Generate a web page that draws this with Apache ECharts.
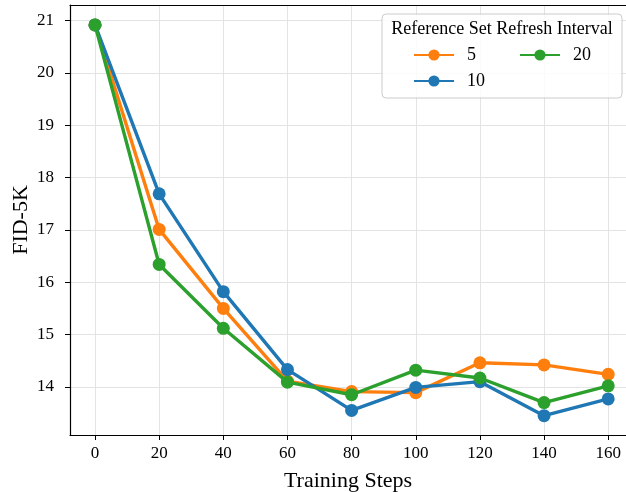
<!DOCTYPE html>
<html>
<head>
<meta charset="utf-8">
<script src="https://cdn.jsdelivr.net/npm/echarts@6/dist/echarts.min.js"></script>
<style>html,body{margin:0;padding:0;background:#fff}#c{width:626px;height:492px}</style>
</head>
<body>
<div id="c"></div>
<script>
const steps = [0, 20, 40, 60, 80, 100, 120, 140, 160];
const interval5 = [20.92, 17.01, 15.50, 14.11, 13.91, 13.89, 14.46, 14.42, 14.24];
const interval10 = [20.92, 17.69, 15.82, 14.33, 13.55, 13.99, 14.10, 13.45, 13.77];
const interval20 = [20.92, 16.34, 15.12, 14.09, 13.85, 14.32, 14.17, 13.70, 14.02];
const xTicks = [0, 20, 40, 60, 80, 100, 120, 140, 160];
const yTicks = [14, 15, 16, 17, 18, 19, 20, 21];
const seriesNames = ['5', '10', '20'];
const colors = ['#ff7f0e', '#1f77b4', '#2ca02c'];

const FONT = '"Liberation Serif", "Times New Roman", serif';
const chart = echarts.init(document.getElementById('c'));
const allData = [interval5, interval10, interval20];

function mkSeries(i) {
  return {
    name: seriesNames[i],
    type: 'line',
    xAxisIndex: 0,
    data: steps.map((s, k) => [s, allData[i][k]]),
    color: colors[i],
    lineStyle: { width: 3.4, color: colors[i] },
    itemStyle: { color: colors[i] },
    symbol: 'circle',
    symbolSize: 13,
    showSymbol: true,
    animation: false,
    z: 2 + i
  };
}

function mkLegend(name, left, top) {
  return {
    data: [name],
    left: left, top: top,
    orient: 'horizontal',
    itemWidth: 40, itemHeight: 14,
    padding: 0,
    textStyle: { fontFamily: FONT, fontSize: 18, color: '#000', padding: [0, 0, 0, 8] },
    selectedMode: false
  };
}

const XMIN = -7.8, XMAX = 165.55;

chart.setOption({
  backgroundColor: '#fff',
  animation: false,
  grid: { left: 70, top: 5, right: 0, bottom: 57, show: false, containLabel: false, outerBoundsMode: 'none' },
  xAxis: [{
    type: 'value', min: XMIN, max: XMAX,
    name: 'Training Steps', nameLocation: 'middle', nameGap: 35,
    nameTextStyle: { fontFamily: FONT, fontSize: 22, color: '#000' },
    axisLine: { show: true, onZero: false, lineStyle: { color: '#000', width: 1.2 } },
    axisTick: { show: true, customValues: xTicks, length: 5, lineStyle: { color: '#000' } },
    axisLabel: { customValues: xTicks, fontFamily: FONT, fontSize: 17, color: '#000', margin: 10 },
    splitLine: { show: true, lineStyle: { color: '#e3e3e3', width: 1 } }
  }, {
    type: 'value', min: XMIN, max: XMAX, position: 'top',
    axisLine: { show: true, onZero: false, lineStyle: { color: '#000', width: 1.2 } },
    axisTick: { show: false }, axisLabel: { show: false }, splitLine: { show: false }
  }],
  yAxis: {
    type: 'value', min: 13.08, max: 21.30,
    name: 'FID-5K', nameLocation: 'middle', nameGap: 38, nameMoveOverlap: false,
    nameTextStyle: { fontFamily: FONT, fontSize: 22, color: '#000' },
    axisLine: { show: true, onZero: false, lineStyle: { color: '#000', width: 1.2 } },
    axisTick: { show: true, customValues: yTicks, length: 5, lineStyle: { color: '#000' } },
    axisLabel: { customValues: yTicks, fontFamily: FONT, fontSize: 17, color: '#000', margin: 16 },
    splitLine: { show: true, lineStyle: { color: '#e3e3e3', width: 1 } }
  },
  legend: [
    mkLegend(seriesNames[0], 413, 46),
    mkLegend(seriesNames[1], 413, 72),
    mkLegend(seriesNames[2], 519, 46)
  ],
  graphic: [
    { type: 'rect', shape: { x: 382, y: 14, width: 240, height: 84, r: 4 },
      style: { fill: 'rgba(255,255,255,0.85)', stroke: '#cccccc', lineWidth: 1 }, z: 3 },
    { type: 'text', x: 502, y: 29, z: 4,
      style: { text: 'Reference Set Refresh Interval', fontFamily: FONT, fontSize: 18, fill: '#000', align: 'center', verticalAlign: 'middle' } }
  ],
  series: [mkSeries(0), mkSeries(1), mkSeries(2)]
});
</script>
</body>
</html>
